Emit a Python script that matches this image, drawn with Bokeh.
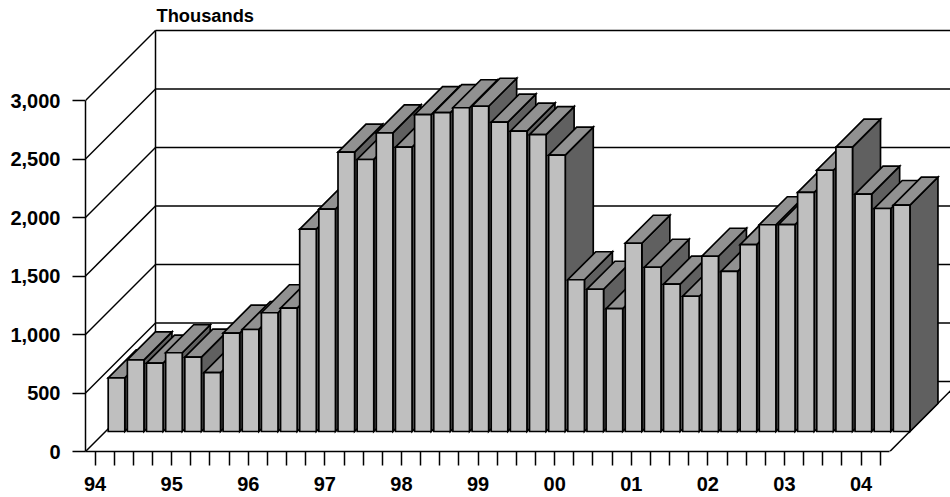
from bokeh.plotting import figure
from bokeh.models import ColumnDataSource, FixedTicker, Range1d
from bokeh.core.properties import value
from bokeh.embed import file_html
from bokeh.resources import INLINE

year_labels = ["94", "95", "96", "97", "98", "99", "00", "01", "02", "03", "04"]
y_ticks = [0, 500, 1000, 1500, 2000, 2500, 3000]
unit_label = "Thousands"
quarterly_values = [
    459, 613, 584, 673, 635, 504, 840, 872, 1015, 1054, 1729, 1900,
    2387, 2325, 2553, 2430, 2709, 2726, 2767, 2780, 2644, 2567, 2538, 2362,
    1297, 1216, 1051, 1609, 1404, 1259, 1156, 1498, 1368, 1598, 1767, 1769,
    2043, 2233, 2430, 2028, 1906, 1934,
]

FONT = "Liberation Sans"
INK = "#000000"
W, H = 950, 497
LEFT, BOTTOM = 85, 46
PX_PER_CAT = 19.15
PX_PER_VAL = 0.117
frame_w, frame_h = W - LEFT, H - BOTTOM
n = len(quarterly_values)

def dx(px):
    return px / PX_PER_CAT

def dy(px):
    return px / PX_PER_VAL

p = figure(width=W, height=H, output_backend="svg", toolbar_location=None,
           x_range=Range1d(0, dx(frame_w)), y_range=Range1d(0, dy(frame_h)),
           min_border_left=LEFT, min_border_right=0, min_border_top=0, min_border_bottom=BOTTOM)
p.outline_line_color = None
p.grid.visible = False
p.background_fill_color = "white"

# axes
xa, ya = p.xaxis[0], p.yaxis[0]
centres = [i + 0.5 for i in range(n)]
xa.ticker = FixedTicker(ticks=centres)
xa.major_label_overrides = {c: "" for c in centres}
for k, lab in enumerate(year_labels):
    xa.major_label_overrides[centres[k * 4]] = lab
xa.bounds = (0, n)
xa.major_tick_out, xa.major_tick_in = 14, 0
xa.minor_tick_line_color = None
xa.axis_line_width = 1.5
xa.major_tick_line_width = 1.5
xa.axis_line_color = xa.major_tick_line_color = INK
xa.major_label_text_font = FONT
xa.major_label_text_font_style = "bold"
xa.major_label_text_font_size = "20px"
xa.major_label_text_color = "#000000"
xa.major_label_standoff = 11

ya.ticker = FixedTicker(ticks=y_ticks)
ya.formatter.use_scientific = False
ya.major_label_overrides = {t: f"{t:,}" for t in y_ticks}
ya.bounds = (0, y_ticks[-1])
ya.major_tick_out, ya.major_tick_in = 13, 0
ya.minor_tick_line_color = None
ya.axis_line_width = 1.5
ya.major_tick_line_width = 1.5
ya.axis_line_color = ya.major_tick_line_color = INK
ya.major_label_text_font = FONT
ya.major_label_text_font_style = "bold"
ya.major_label_text_font_size = "20px"
ya.major_label_text_color = "#000000"
ya.major_label_standoff = 12

# walls and gridlines
wx, wy = dx(70), dy(70)
p.segment(x0=[0] * len(y_ticks), y0=y_ticks, x1=[wx] * len(y_ticks), y1=[t + wy for t in y_ticks],
          line_color=INK, line_width=1.5)
p.segment(x0=[wx] * len(y_ticks), y0=[t + wy for t in y_ticks],
          x1=[dx(frame_w)] * len(y_ticks), y1=[t + wy for t in y_ticks],
          line_color=INK, line_width=1.5)
p.segment(x0=[wx], y0=[wy], x1=[wx], y1=[y_ticks[-1] + wy], line_color=INK, line_width=1.5)
p.segment(x0=[n], y0=[0], x1=[n + wx], y1=[wy], line_color=INK, line_width=1.5)

# bars, painted left to right
off_x, off_y = dx(22.7), dy(20)
bw, bx, by = dx(16.6), dx(28), dy(28)
xs, ys, fills = [], [], []
for i, v in enumerate(quarterly_values):
    x0, x1 = i + off_x, i + off_x + bw
    y0, y1 = off_y, off_y + v
    xs.append([x1, x1 + bx, x1 + bx, x1]); ys.append([y0, y0 + by, y1 + by, y1]); fills.append("#606060")
    xs.append([x0, x1, x1 + bx, x0 + bx]); ys.append([y1, y1, y1 + by, y1 + by]); fills.append("#919191")
    xs.append([x0, x1, x1, x0]); ys.append([y0, y0, y1, y1]); fills.append("#BFBFBF")
src = ColumnDataSource(dict(xs=xs, ys=ys, fill=fills))
p.patches("xs", "ys", source=src, fill_color="fill", line_color=INK, line_width=1.7, line_join="miter")

p.text(x=[dx(71)], y=[dy(436)], text=[unit_label], text_font=value(FONT), text_font_style="bold",
       text_font_size="18.3px", text_color="black", text_baseline="middle", text_align="left")

open("out.html", "w").write(file_html(p, INLINE))
